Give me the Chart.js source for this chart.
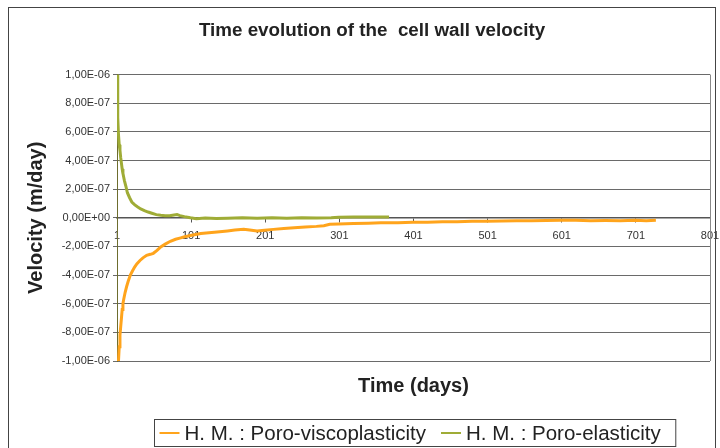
<!DOCTYPE html>
<html>
<head>
<meta charset="utf-8">
<script src="https://cdn.jsdelivr.net/npm/chart.js@4.4.1/dist/chart.umd.min.js"></script>
<style>
  html, body { margin: 0; padding: 0; background: #fff; }
</style>
</head>
<body>
<canvas id="velChart" width="720" height="448"></canvas>
<script>
const chartTitle = 'Time evolution of the  cell wall velocity';
const xTitle = 'Time (days)';
const yTitle = 'Velocity (m/day)';
const seriesNames = ['H. M. : Poro-viscoplasticity', 'H. M. : Poro-elasticity'];
const seriesColors = ['#ffa41c', '#9fac36'];

const xTicks = [1, 101, 201, 301, 401, 501, 601, 701, 801];
const yTicks = [-1e-6, -8e-7, -6e-7, -4e-7, -2e-7, 0, 2e-7, 4e-7, 6e-7, 8e-7, 1e-6];

// velocities, in units of 1e-7 m/day
const viscoDays = [1, 2, 3, 4, 5, 6, 7, 8, 9, 10, 12, 14, 16, 19, 22, 25, 28, 32, 36, 41,
  46, 50, 55, 60, 66, 73, 80, 87, 91, 100, 114, 125, 136, 150, 160, 172, 180, 190, 200, 212,
  226, 240, 255, 270, 280, 288, 300, 320, 340, 357, 380, 400, 420, 440, 460, 480, 500, 520, 540, 560,
  580, 600, 620, 640, 660, 680, 700, 715, 728];
const viscoVel = [-12.0, -11.0, -10.0, -9.0, -8.2, -7.6, -7.0, -6.4, -6.0, -5.7, -5.2, -4.8, -4.45, -4.0, -3.7, -3.42, -3.2, -2.98, -2.8, -2.62,
  -2.55, -2.48, -2.28, -2.03, -1.84, -1.64, -1.5, -1.4, -1.34, -1.24, -1.1, -1.04, -0.99, -0.92, -0.86, -0.8, -0.86, -0.93, -0.87, -0.81,
  -0.75, -0.7, -0.65, -0.6, -0.55, -0.46, -0.44, -0.4, -0.38, -0.35, -0.34, -0.32, -0.31, -0.28, -0.27, -0.25, -0.24, -0.23, -0.21, -0.2,
  -0.19, -0.18, -0.18, -0.2, -0.19, -0.2, -0.18, -0.2, -0.17];

const elasDays = [1, 2, 3, 4, 5, 6, 7, 8, 9, 10, 11, 13, 15, 18, 21, 25, 29, 33, 38, 43,
  48, 54, 60, 66, 72, 78, 82, 86, 92, 100, 108, 120, 135, 150, 170, 190, 210, 230, 250, 270,
  290, 300, 320, 340, 360, 368];
const elasVel = [10.0, 7.0, 5.8, 5.1, 4.7, 4.2, 3.8, 3.4, 3.1, 2.85, 2.6, 2.2, 1.75, 1.4, 1.1, 0.9, 0.75, 0.62, 0.5, 0.4,
  0.32, 0.22, 0.17, 0.15, 0.14, 0.2, 0.22, 0.15, 0.08, 0.0, -0.06, -0.02, -0.05, -0.03, 0.0, -0.04, 0.0, -0.03, 0.0, -0.02,
  0.0, 0.04, 0.05, 0.05, 0.06, 0.05];

const fontFamily = '"Liberation Sans", Arial, sans-serif';
Chart.defaults.font.family = fontFamily;

function toPoints(days, vals) {
  return days.map((d, i) => ({ x: d, y: vals[i] * 1e-7 }));
}

// Excel style: 1,00E-06
function excelSci(v) {
  if (Math.abs(v) < 1e-15) return '0,00E+00';
  const parts = Number(v).toExponential(2).split('e');
  const ex = parseInt(parts[1], 10);
  return parts[0].replace('.', ',') + 'E' + (ex < 0 ? '-' : '+') + String(Math.abs(ex)).padStart(2, '0');
}

const excelDecor = {
  id: 'excelDecor',
  beforeDraw(chart) {
    const ctx = chart.ctx;
    ctx.save();
    ctx.fillStyle = '#fff';
    ctx.fillRect(0, 0, chart.width, chart.height);
    ctx.restore();
  },
  afterDraw(chart) {
    const { ctx, chartArea: a } = chart;
    ctx.save();

    // right edge of the plot area
    ctx.strokeStyle = '#8a8a8a';
    ctx.lineWidth = 1;
    ctx.beginPath();
    ctx.moveTo(Math.round(a.right) + 0.5, a.top);
    ctx.lineTo(Math.round(a.right) + 0.5, a.bottom);
    ctx.stroke();

    // outer frame
    ctx.strokeStyle = '#444';
    ctx.strokeRect(8.5, 7.5, 707, 470);

    // x axis title (axis sits at zero, so title is drawn here)
    const cx = (a.left + a.right) / 2;
    ctx.fillStyle = '#222';
    ctx.font = 'bold 20px ' + fontFamily;
    ctx.textAlign = 'center';
    ctx.textBaseline = 'middle';
    ctx.fillText(xTitle, cx, a.bottom + 25);

    // legend with box
    ctx.font = '20.5px ' + fontFamily;
    const items = chart.data.datasets.map(ds => ({
      label: ds.label, color: ds.borderColor, w: ctx.measureText(ds.label).width
    }));
    const lineLen = 20, gap = 5, sep = 15, padL = 5, padR = 15;
    let total = padL + padR + sep * (items.length - 1);
    items.forEach(it => { total += lineLen + gap + it.w; });
    const boxL = Math.round(cx + 1 - total / 2) + 0.5;
    const boxT = 419.5, boxH = 27, midY = boxT + boxH / 2;
    ctx.strokeStyle = '#444';
    ctx.strokeRect(boxL, boxT, total, boxH);
    let x = boxL + padL;
    ctx.textAlign = 'left';
    items.forEach(it => {
      ctx.strokeStyle = it.color;
      ctx.lineWidth = 2;
      ctx.beginPath();
      ctx.moveTo(x, Math.round(midY));
      ctx.lineTo(x + lineLen, Math.round(midY));
      ctx.stroke();
      x += lineLen + gap;
      ctx.fillStyle = '#222';
      ctx.fillText(it.label, x, midY + 1);
      x += it.w + sep;
    });

    ctx.restore();
  }
};

new Chart(document.getElementById('velChart'), {
  type: 'line',
  data: {
    datasets: [
      {
        label: seriesNames[0],
        data: toPoints(viscoDays, viscoVel),
        borderColor: seriesColors[0],
        borderWidth: 3,
        pointRadius: 0,
        tension: 0
      },
      {
        label: seriesNames[1],
        data: toPoints(elasDays, elasVel),
        borderColor: seriesColors[1],
        borderWidth: 3,
        pointRadius: 0,
        tension: 0
      }
    ]
  },
  options: {
    responsive: false,
    animation: false,
    layout: { padding: { left: 34, right: 10, top: 0, bottom: 87 } },
    plugins: {
      legend: { display: false },
      tooltip: { enabled: false },
      title: {
        display: true,
        text: chartTitle,
        color: '#222',
        font: { size: 18.8, weight: 'bold' },
        padding: { top: 20, bottom: 32 }
      }
    },
    scales: {
      x: {
        type: 'linear',
        min: 1,
        max: 801,
        position: { y: 0 },
        afterBuildTicks: s => { s.ticks = xTicks.map(v => ({ value: v })); },
        afterFit: s => { s.paddingLeft = 0; s.paddingRight = 0; },
        ticks: { color: '#333', font: { size: 11 }, padding: 8, maxRotation: 0, autoSkip: false },
        grid: { drawOnChartArea: false, drawTicks: true, tickLength: 4, color: '#555' },
        border: { color: '#555', width: 1.5 }
      },
      y: {
        min: -1e-6,
        max: 1e-6,
        afterBuildTicks: s => { s.ticks = yTicks.map(v => ({ value: v })); },
        afterFit: s => { s.width = 83; },
        ticks: { color: '#333', font: { size: 11 }, padding: 3, autoSkip: false, callback: v => excelSci(v) },
        grid: { color: '#6a6a6a', tickLength: 4 },
        border: { color: '#6d6d2e', width: 1 },
        title: {
          display: true,
          text: yTitle,
          color: '#222',
          font: { size: 20, weight: 'bold' },
          padding: { top: -9.5, bottom: 0 }
        }
      }
    }
  },
  plugins: [excelDecor]
});
</script>
</body>
</html>
